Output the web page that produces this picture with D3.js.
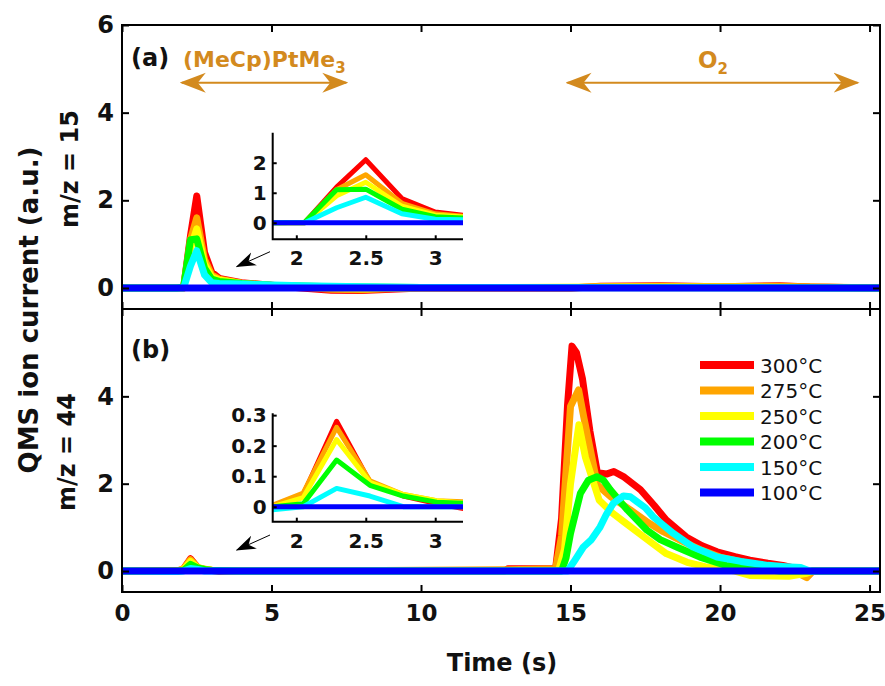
<!DOCTYPE html>
<html>
<head>
<meta charset="utf-8">
<script src="https://cdn.jsdelivr.net/npm/d3@7"></script>
<style>
  body { margin: 0; background: #fff; }
  text { font-family: 'DejaVu Sans', sans-serif; }
</style>
</head>
<body>
<script>
// Series labels and colours (drawn in this order, blue on top)
const tempLabels = ['300', '275', '250', '200', '150', '100'];
const colours = ['#ff0000', '#ffa500', '#ffff00', '#00ff00', '#00ffff', '#0000ff'];

// Tick values
const xTicks = [0, 5, 10, 15, 20, 25];
const yTicksTop = [0, 2, 4, 6];
const yTicksBottom = [0, 2, 4];
const insetXTicks = [2, 2.5, 3];
const insetTopYTicks = [0, 1, 2];
const insetBottomYTicks = [0, 0.1, 0.2, 0.3];

// (a) m/z = 15, [time (s), current (a.u.)]
const m15_300 = [[0,0],[1.83,0],[2.06,0],[2.29,1.19],[2.5,2.1],[2.76,0.81],[3.0,0.36],[3.25,0.22],[4,0.12],[5,0.06],[6,0],[7,-0.05],[8,-0.06],[9,-0.03],[10,0],[15,0],[16,0.04],[18,0.05],[20,0.03],[22,0.05],[23,0.02],[25.35,0]];
const m15_275 = [[0,0],[1.83,0],[2.06,0],[2.29,1.1],[2.5,1.6],[2.76,0.65],[3.0,0.3],[3.25,0.2],[4,0.11],[5,0.06],[6,0.02],[7,-0.03],[8,-0.04],[9,-0.01],[10,0],[15,0],[16,0.03],[18,0.04],[20,0.03],[22,0.04],[25.35,0]];
const m15_250 = [[0,0],[1.83,0],[2.06,0],[2.29,0.9],[2.5,1.35],[2.76,0.55],[3.0,0.25],[3.25,0.18],[4,0.1],[5,0.05],[6,0.02],[8,-0.02],[10,0],[16,0.02],[20,0.02],[25.35,0]];
const m15_200 = [[0,0],[1.83,0],[2.06,0.02],[2.29,1.1],[2.5,1.12],[2.76,0.45],[3.0,0.2],[3.25,0.15],[4,0.1],[5,0.06],[7,0.03],[10,0.01],[25.35,0]];
const m15_150 = [[0,0],[1.83,0],[2.06,0],[2.29,0.5],[2.5,0.85],[2.76,0.3],[3.0,0.12],[3.25,0.1],[4,0.09],[6,0.05],[8,0.03],[10,0.01],[25.35,0]];
const m15_100 = [[0,0],[25.35,0]];

// (b) m/z = 44
const m44_300 = [[0,0],[1.83,0],[2.05,0.04],[2.29,0.28],[2.53,0.08],[2.77,0.035],[3.01,0.01],[3.25,-0.01],[4,0],[12.8,0],[12.9,0.05],[14.5,0.05],[14.7,1.2],[14.9,3.8],[15.05,5.15],[15.2,5.0],[15.4,4.4],[15.65,3.2],[15.9,2.25],[16.2,2.22],[16.45,2.28],[16.8,2.15],[17.34,1.86],[17.8,1.5],[18.2,1.17],[18.87,0.78],[19.4,0.58],[19.9,0.44],[20.5,0.33],[21.0,0.25],[21.6,0.18],[22.1,0.13],[22.6,0.05],[22.95,-0.1],[23.1,0],[25.35,0]];
const m44_275 = [[0,0],[1.83,0.005],[2.05,0.045],[2.29,0.26],[2.53,0.085],[2.77,0.04],[3.01,0.02],[3.25,0.015],[4,0.01],[6,0],[12.8,0.03],[14.5,0.05],[14.7,0.8],[15.0,3.77],[15.27,4.15],[15.45,3.5],[15.9,1.97],[16.35,1.7],[17.0,1.4],[17.55,1.13],[18.1,0.9],[18.66,0.71],[19.3,0.5],[20,0.32],[21,0.17],[22.1,0.05],[22.6,-0.05],[22.9,-0.15],[23.1,0],[25.35,0]];
const m44_250 = [[0,0],[1.83,0],[2.05,0.03],[2.29,0.22],[2.53,0.08],[2.77,0.04],[3.01,0.02],[3.25,0.01],[4,0],[14.6,0],[14.8,0.5],[15.0,2.0],[15.28,3.35],[15.5,2.6],[15.96,1.62],[16.4,1.33],[16.8,1.12],[17.3,0.86],[17.8,0.6],[18.2,0.4],[18.9,0.2],[19.5,0.1],[20,0.05],[20.5,0],[21,-0.1],[22.3,-0.12],[22.9,-0.05],[23.1,0],[25.35,0]];
const m44_200 = [[0,0],[1.83,0],[2.05,0.01],[2.29,0.153],[2.53,0.07],[2.77,0.035],[3.01,0.015],[3.25,0.01],[4,0],[14.7,0],[14.85,0.3],[15.0,0.86],[15.33,1.78],[15.6,2.08],[15.88,2.16],[16.1,2.08],[16.33,1.86],[16.9,1.4],[17.55,0.94],[18.0,0.72],[18.55,0.55],[19.33,0.32],[20.2,0.13],[21.3,0.05],[22,0],[25.35,0]];
const m44_150 = [[0,0],[1.83,-0.01],[2.05,0],[2.29,0.06],[2.53,0.035],[2.77,0],[14.9,0],[15.1,0.2],[15.43,0.55],[15.7,0.72],[15.99,1.01],[16.2,1.3],[16.43,1.55],[16.77,1.72],[17.0,1.7],[17.22,1.59],[17.5,1.45],[17.77,1.24],[18.1,1.05],[18.44,0.86],[19.1,0.55],[19.9,0.32],[20.7,0.22],[21.6,0.13],[22.2,0.1],[22.7,0.08],[23.0,0],[25.35,0]];
const m44_100 = [[0,0],[25.35,0]];

const seriesA = [m15_300, m15_275, m15_250, m15_200, m15_150, m15_100];
const seriesB = [m44_300, m44_275, m44_250, m44_200, m44_150, m44_100];

const W = 885, H = 686;
const orange = '#d38a1e';

const svg = d3.select('body').append('svg')
    .attr('width', W)
    .attr('height', H);

const defs = svg.append('defs');

// Scales
const x = d3.scaleLinear().domain([0, 25.35]).range([122, 880]);
const yTop = d3.scaleLinear().domain([-0.48, 6]).range([309, 25]);
const yBot = d3.scaleLinear().domain([-0.48, 6]).range([592, 309]);

function styleAxis(g, size) {
    g.select('.domain').remove();
    g.selectAll('.tick line').attr('stroke', '#000').attr('stroke-width', 2);
    g.selectAll('.tick text')
        .attr('fill', '#111')
        .attr('font-size', size)
        .attr('font-weight', 'bold');
}

function drawPanel(yScale, series, id, yTicks, showXLabels) {
    const [y0, y1] = yScale.range();
    defs.append('clipPath').attr('id', id)
        .append('rect')
        .attr('x', x.range()[0]).attr('y', y1)
        .attr('width', x.range()[1] - x.range()[0]).attr('height', y0 - y1);

    const line = d3.line().x(d => x(d[0])).y(d => yScale(d[1]));
    const g = svg.append('g').attr('clip-path', `url(#${id})`);
    series.forEach((s, i) => {
        g.append('path')
            .datum(s)
            .attr('d', line)
            .attr('fill', 'none')
            .attr('stroke', colours[i])
            .attr('stroke-width', 7)
            .attr('stroke-linejoin', 'round');
    });

    // y axis left with labels, right without
    const left = svg.append('g').attr('transform', `translate(${x.range()[0]},0)`)
        .call(d3.axisLeft(yScale).tickValues(yTicks).tickSize(-7).tickPadding(8).tickFormat(d3.format('d')));
    styleAxis(left, 24);
    const right = svg.append('g').attr('transform', `translate(${x.range()[1]},0)`)
        .call(d3.axisRight(yScale).tickValues(yTicks).tickSize(-7).tickFormat(''));
    styleAxis(right, 24);

    const top = svg.append('g').attr('transform', `translate(0,${y1})`)
        .call(d3.axisTop(x).tickValues(xTicks).tickSize(-7).tickFormat(''));
    styleAxis(top, 24);
    const bottom = svg.append('g').attr('transform', `translate(0,${y0})`)
        .call(d3.axisBottom(x).tickValues(xTicks).tickSize(-7).tickPadding(13)
            .tickFormat(showXLabels ? d3.format('d') : ''));
    styleAxis(bottom, 23);

    svg.append('rect')
        .attr('x', x.range()[0]).attr('y', y1)
        .attr('width', x.range()[1] - x.range()[0]).attr('height', y0 - y1)
        .attr('fill', 'none').attr('stroke', '#000').attr('stroke-width', 2);
}

drawPanel(yTop, seriesA, 'clipA', yTicksTop, false);
drawPanel(yBot, seriesB, 'clipB', yTicksBottom, true);

// Insets
const ix = d3.scaleLinear().domain([1.83, 3.2]).range([272.7, 463]);

function drawInset(yScale, series, id, yTicks, fmt) {
    const [y0, y1] = yScale.range();
    defs.append('clipPath').attr('id', id)
        .append('rect')
        .attr('x', ix.range()[0]).attr('y', y1)
        .attr('width', ix.range()[1] - ix.range()[0]).attr('height', y0 - y1);
    const line = d3.line().x(d => ix(d[0])).y(d => yScale(d[1]));
    const g = svg.append('g').attr('clip-path', `url(#${id})`);
    series.forEach((s, i) => {
        g.append('path')
            .datum(s)
            .attr('d', line)
            .attr('fill', 'none')
            .attr('stroke', colours[i])
            .attr('stroke-width', 5)
            .attr('stroke-linejoin', 'round');
    });
    const left = svg.append('g').attr('transform', `translate(${ix.range()[0]},0)`)
        .call(d3.axisLeft(yScale).tickValues(yTicks).tickSize(-4).tickPadding(6).tickFormat(fmt));
    styleAxis(left, 20);
    const bottom = svg.append('g').attr('transform', `translate(0,${y0})`)
        .call(d3.axisBottom(ix).tickValues(insetXTicks).tickSize(-4).tickPadding(12).tickFormat(d => d));
    styleAxis(bottom, 20);
    svg.append('path')
        .attr('d', `M${ix.range()[0]},${y1}V${y0}H${ix.range()[1]}`)
        .attr('fill', 'none').attr('stroke', '#000').attr('stroke-width', 2);
}

drawInset(d3.scaleLinear().domain([-0.55, 3]).range([239.3, 132.7]), seriesA, 'clipIA', insetTopYTicks, d => d);
drawInset(d3.scaleLinear().domain([-0.049, 0.306]).range([521.7, 413.3]), seriesB, 'clipIB', insetBottomYTicks, d => d === 0 ? '0' : d3.format('.1f')(d));

// Arrowheads
defs.append('marker').attr('id', 'headOrange')
    .attr('markerUnits', 'userSpaceOnUse')
    .attr('viewBox', '0 -11 26 22').attr('refX', 24).attr('refY', 0)
    .attr('markerWidth', 26).attr('markerHeight', 22).attr('orient', 'auto-start-reverse')
    .append('path').attr('d', 'M26,0L0,-10L8,0L0,10Z').attr('fill', orange);
defs.append('marker').attr('id', 'headBlack')
    .attr('markerUnits', 'userSpaceOnUse')
    .attr('viewBox', '0 -8 20 16').attr('refX', 19).attr('refY', 0)
    .attr('markerWidth', 20).attr('markerHeight', 16).attr('orient', 'auto')
    .append('path').attr('d', 'M20,0L0,-7L6,0L0,7Z').attr('fill', '#000');

// Orange range arrows
[[2.0, 7.5], [14.9, 24.6]].forEach(([a, b]) => {
    svg.append('line')
        .attr('x1', x(a)).attr('x2', x(b)).attr('y1', 82.7).attr('y2', 82.7)
        .attr('stroke', orange).attr('stroke-width', 2)
        .attr('marker-start', 'url(#headOrange)').attr('marker-end', 'url(#headOrange)');
});

const t1 = svg.append('text').attr('x', 183).attr('y', 66.5)
    .attr('fill', orange).attr('font-size', 22).attr('font-weight', 'bold');
t1.append('tspan').text('(MeCp)PtMe');
t1.append('tspan').attr('font-size', 15).attr('dy', 6).text('3');

const t2 = svg.append('text').attr('x', 698).attr('y', 68)
    .attr('fill', orange).attr('font-size', 23).attr('font-weight', 'bold');
t2.append('tspan').text('O');
t2.append('tspan').attr('font-size', 15).attr('dy', 6).text('2');

// Small black pointer arrows
[[251.7, 266.7], [535, 550]].forEach(([ya, yb]) => {
    svg.append('line')
        .attr('x1', 270).attr('y1', ya).attr('x2', 236.7).attr('y2', yb)
        .attr('stroke', '#000').attr('stroke-width', 1)
        .attr('marker-end', 'url(#headBlack)');
});

// Panel letters
svg.append('text').attr('x', 131).attr('y', 66).attr('font-size', 24).attr('font-weight', 'bold').attr('fill', '#111').text('(a)');
svg.append('text').attr('x', 131).attr('y', 358).attr('font-size', 24).attr('font-weight', 'bold').attr('fill', '#111').text('(b)');

// Axis titles
svg.append('text')
    .attr('transform', 'translate(29,310) rotate(-90)')
    .attr('text-anchor', 'middle').attr('dominant-baseline', 'central')
    .attr('font-size', 26).attr('font-weight', 'bold').attr('fill', '#111')
    .text('QMS ion current (a.u.)');
svg.append('text')
    .attr('transform', 'translate(70,169) rotate(-90)')
    .attr('text-anchor', 'middle').attr('dominant-baseline', 'central')
    .attr('font-size', 24).attr('font-weight', 'bold').attr('fill', '#111')
    .text('m/z = 15');
svg.append('text')
    .attr('transform', 'translate(67,452) rotate(-90)')
    .attr('text-anchor', 'middle').attr('dominant-baseline', 'central')
    .attr('font-size', 24).attr('font-weight', 'bold').attr('fill', '#111')
    .text('m/z = 44');
svg.append('text')
    .attr('x', 502).attr('y', 671)
    .attr('text-anchor', 'middle')
    .attr('font-size', 24).attr('font-weight', 'bold').attr('fill', '#111')
    .text('Time (s)');

// Legend
const legend = svg.append('g');
tempLabels.forEach((t, i) => {
    const yy = 365 + i * 25.5;
    legend.append('line')
        .attr('x1', 700).attr('x2', 754).attr('y1', yy).attr('y2', yy)
        .attr('stroke', colours[i]).attr('stroke-width', 8);
    legend.append('text')
        .attr('x', 760).attr('y', yy + 7.5)
        .attr('font-size', 20).attr('fill', '#111')
        .text(t + '\u00b0C');
});
</script>
</body>
</html>
